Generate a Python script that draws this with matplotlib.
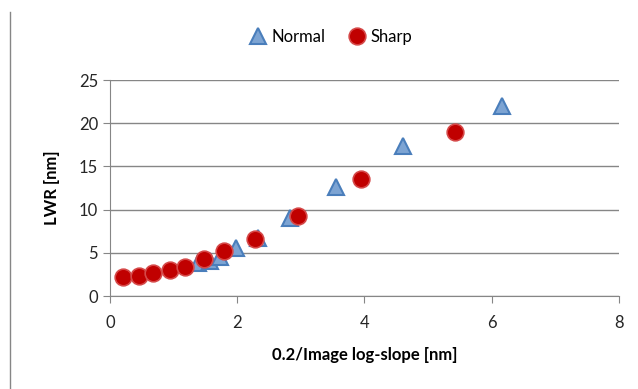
import matplotlib.pyplot as plt
from matplotlib.lines import Line2D

# data
normal_x = [1.39, 1.57, 1.73, 1.98, 2.33, 2.83, 3.56, 4.61, 6.16]
normal_y = [3.8, 4.0, 4.55, 5.6, 6.7, 9.0, 12.65, 17.4, 22.0]
sharp_x = [0.21, 0.45, 0.68, 0.94, 1.18, 1.48, 1.80, 2.28, 2.96, 3.95, 5.42]
sharp_y = [2.2, 2.35, 2.7, 3.0, 3.4, 4.25, 5.2, 6.55, 9.25, 13.5, 19.0]
x_ticks = [0, 2, 4, 6, 8]
y_ticks = [0, 5, 10, 15, 20, 25]

plt.rcParams['font.family'] = ['Lato', 'DejaVu Sans']
grey = '#868686'

fig = plt.figure(figsize=(6.38, 3.89), dpi=100)
ax = fig.add_axes([0.1724, 0.239, 0.7976, 0.555])

ax.plot(normal_x, normal_y, linestyle='none', marker='^', markersize=12,
        markerfacecolor='#7da4d3', markeredgecolor='#4a7ebb', markeredgewidth=1.5,
        label='Normal', zorder=3)
ax.plot(sharp_x, sharp_y, linestyle='none', marker='o', markersize=12,
        markerfacecolor='#c00000', markeredgecolor='#d54848', markeredgewidth=1.2,
        label='Sharp', zorder=4)

ax.set_xlim(0, 8)
ax.set_ylim(0, 25)
ax.set_xticks(x_ticks)
ax.set_yticks(y_ticks)
ax.grid(axis='y', color=grey, linewidth=1)
ax.set_axisbelow(True)
for s in ['top', 'right']:
    ax.spines[s].set_visible(False)
for s in ['left', 'bottom']:
    ax.spines[s].set_color(grey)
ax.tick_params(colors=grey, labelcolor='#262626', labelsize=12, length=5, direction='out')
ax.tick_params(axis='x', pad=9)

ax.set_xlabel('0.2/Image log-slope [nm]', fontsize=12, fontweight='bold', labelpad=11)
ax.set_ylabel('LWR [nm]', fontsize=12, fontweight='bold')
ax.yaxis.set_label_coords(-0.098, 0.5)

ax.legend(loc='center', bbox_to_anchor=(0.435, 1.2), ncol=2, frameon=False,
          fontsize=12, handlelength=1.0, handletextpad=0.3, columnspacing=1.4)

fig.add_artist(Line2D([10 / 638, 10 / 638], [0, 1 - 12 / 389], color=grey, linewidth=1))

fig.savefig('out.png', dpi=100)
